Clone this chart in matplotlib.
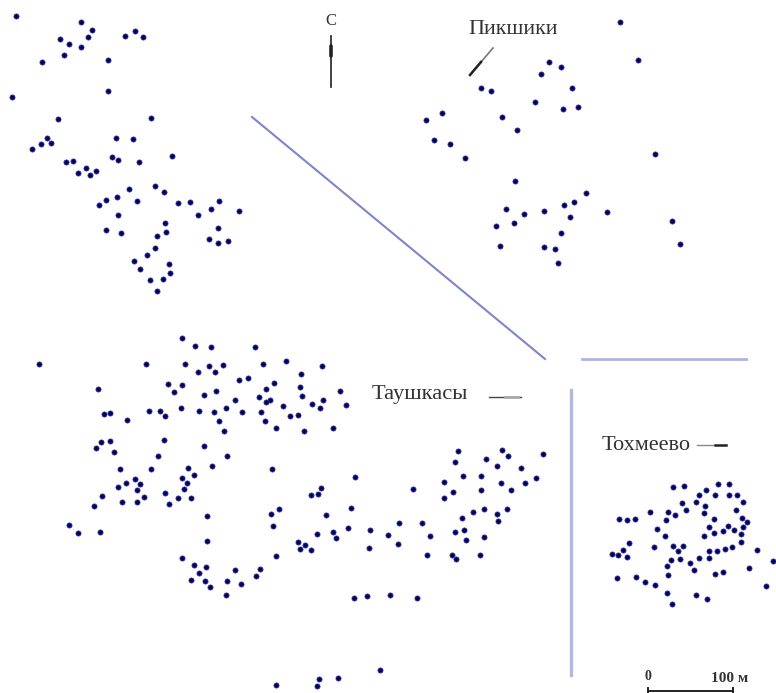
import numpy as np
import matplotlib
matplotlib.use("Agg")
import matplotlib.pyplot as plt

# Point readings per settlement, in image units at 3x, with their reading origin
pikshiki_nw = [(48,48),(244,67),(277,89),(264,110),(181,116),(207,131),(244,140),(191,164),(125,187),(324,179),(374,109),(405,94),(430,111),(323,272),(37,290),(173,357),(452,353),(347,415),(398,416),(141,414),(152,429),(124,433),(97,446),(199,486),(219,483),(259,503),(234,518),(269,525),(288,514),(335,471),(355,481),(417,485),(516,469),(465,557),(491,575),(386,567),(351,590),(319,601),(298,614),(410,602),(533,608),(569,605),(595,645),(632,627),(657,604),(717,632),(353,644),(495,668),(498,697),(470,707),(653,683),(627,717),(655,729),(685,722),(317,690),(363,699),(465,745),(441,764),(402,782),(421,806),(507,792),(511,818),(489,837),(449,840),(470,872)]
pikshiki_ne = [(961,65),(1013,181),(747,185),(782,202),(724,223),(815,263),(542,265),(572,272),(705,305),(788,327),(834,320),(425,338),(379,361),(605,350),(652,391),(401,421),(449,433),(495,474),(1066,463),(645,542),(858,578),(823,607),(791,614),(617,628),(671,643),(732,632),(921,637),(809,651),(642,669),(588,677),(1117,662),(782,700),(600,738),(731,742),(765,748),(1139,733),(774,790)]
taushkasy_w = [(486,38),(525,64),(572,67),(706,65),(57,117),(379,117),(496,118),(568,124),(610,120),(729,116),(799,109),(907,124),(535,142),(586,141),(844,148),(656,164),(683,158),(763,175),(738,191),(841,185),(444,178),(485,181),(461,202),(234,192),(552,210),(587,199),(960,197),(845,214),(716,216),(750,224),(737,232),(645,226),(910,226),(876,238),(789,243),(900,249),(978,240),(484,250),(538,257),(617,250),(387,257),(420,259),(435,272),(582,262),(666,260),(722,260),(269,263),(253,268),(322,285),(809,274),(834,270),(598,287),(734,289),(768,309),(853,317),(939,308),(613,319),(431,344),(269,347),(243,351),(229,369),(281,380),(551,363),(415,394),(620,394),(575,424),(299,431),(392,431),(504,429),(757,433),(1004,457),(345,461),(487,458),(521,450),(500,473),(361,476),(318,474),(294,485),(352,494),(492,491),(902,488),(872,509),(894,508),(436,503),(245,512),(373,517),(475,518),(514,520),(305,530),(350,531),(448,538),(222,544),(778,551),(992,548),(753,568),(917,569),(562,573),(146,601),(175,624),(240,621),(758,604),(985,610),(939,621),(891,628)]
taushkasy_e = [(865,62),(995,61),(1015,79),(949,88),(854,97),(982,108),(1118,73),(1054,114),(880,139),(932,139),(823,157),(994,160),(1065,159),(1099,145),(932,180),(1023,181),(850,187),(728,177),(822,205),(908,247),(942,236),(1011,238),(980,252),(984,274),(875,265),(755,278),(688,279),(600,301),(883,300),(855,306),(655,314),(779,318),(942,320),(888,331),(684,341),(597,354),(770,374),(846,374),(858,388),(930,374),(498,324),(110,332),(383,336),(406,345),(391,356),(423,359),(35,385),(319,379),(71,405),(107,412),(194,419),(270,416),(86,428),(257,437),(62,449),(104,454),(172,453),(213,461),(121,472),(168,495),(553,504),(592,497),(660,496),(742,505),(631,719),(504,744),(446,748),(318,764),(441,769)]
tokhmeevo = [(308,201),(343,198),(443,191),(476,191),(407,210),(387,224),(436,224),(476,224),(502,224),(519,245),(377,246),(337,250),(405,259),(349,271),(403,278),(498,271),(240,277),(293,276),(316,284),(288,301),(148,297),(170,301),(196,297),(516,293),(532,307),(433,298),(520,320),(418,320),(474,318),(491,331),(458,334),(433,338),(260,327),(284,348),(403,348),(514,343),(513,365),(177,370),(160,389),(125,402),(144,404),(172,412),(252,380),(309,378),(339,378),(325,392),(418,392),(441,393),(466,387),(486,381),(561,389),(418,413),(387,414),(303,419),(331,416),(360,428),(610,423),(291,439),(373,450),(538,445),(293,465),(436,463),(460,456),(142,475),(199,471),(226,485),(256,496),(589,499),(290,519),(379,526),(412,537),(307,553)]
groups = [(pikshiki_nw,(0,0)),(pikshiki_ne,(300,0)),(taushkasy_w,(20,325)),(taushkasy_e,(170,430)),(tokhmeevo,(570,420))]

labels = ["Пикшики", "Таушкасы", "Тохмеево"]
north = "С"
scale_labels = ["0", "100 м"]

W, H = 776, 693
fig = plt.figure(figsize=(W/100, H/100), dpi=100)
ax = fig.add_axes([0, 0, 1, 1])
ax.set_xlim(0, W); ax.set_ylim(H, 0); ax.axis("off")

for pts, (ox, oy) in groups:
    a = np.array(pts, float)
    ax.scatter(a[:,0]/3+ox, a[:,1]/3+oy, s=14, c="#05054a", edgecolors="#3030c0", linewidths=0.5, zorder=3)

ax.plot([252,545],[117,359], color="#7f84cc", lw=1.5)
ax.plot([582,746],[359,359], color="#b0b3e2", lw=2.0)
ax.plot([571,571],[390,675], color="#b4b7e4", lw=2.4)

serif = "Liberation Serif"
tc = "#333333"
ax.text(331,21,north,family=serif,fontsize=12,ha="center",va="center",color=tc)
ax.text(513,30,labels[0],family=serif,fontsize=15.8,ha="center",va="center",color=tc)
ax.text(420,394,labels[1],family=serif,fontsize=16.2,ha="center",va="center",color=tc)
ax.text(646,445,labels[2],family=serif,fontsize=16,ha="center",va="center",color=tc)
ax.text(648,677,scale_labels[0],family=serif,fontsize=10,ha="center",va="center",color=tc,fontweight="bold")
ax.text(730,678,scale_labels[1],family=serif,fontsize=11,ha="center",va="center",color=tc,fontweight="bold")

# north arrow
ax.plot([331,331],[36,87],color="#333333",lw=1.3)
ax.plot([331,331],[46,56],color="#222222",lw=2.6,solid_capstyle="round")
# Пикшики pointer
ax.plot([493,470],[48,75],color="#777777",lw=1.2)
ax.plot([481,470],[62,75],color="#222222",lw=1.8)
# Таушкасы pointer
ax.plot([489,521],[397,397],color="#444444",lw=1.0)
ax.plot([505,518],[397,397],color="#aaaaaa",lw=2.0)
# Тохмеево pointer
ax.plot([697,713],[445,445],color="#888888",lw=1.0)
ax.plot([715,726],[445,445],color="#222222",lw=1.8)
# scale bar
ax.plot([648,733],[691,691],color="#222222",lw=1.4)
ax.plot([648,648],[688,693],color="#222222",lw=1.4)
ax.plot([733,733],[688,693],color="#222222",lw=1.4)

fig.savefig("out.png", dpi=100, facecolor="white")
